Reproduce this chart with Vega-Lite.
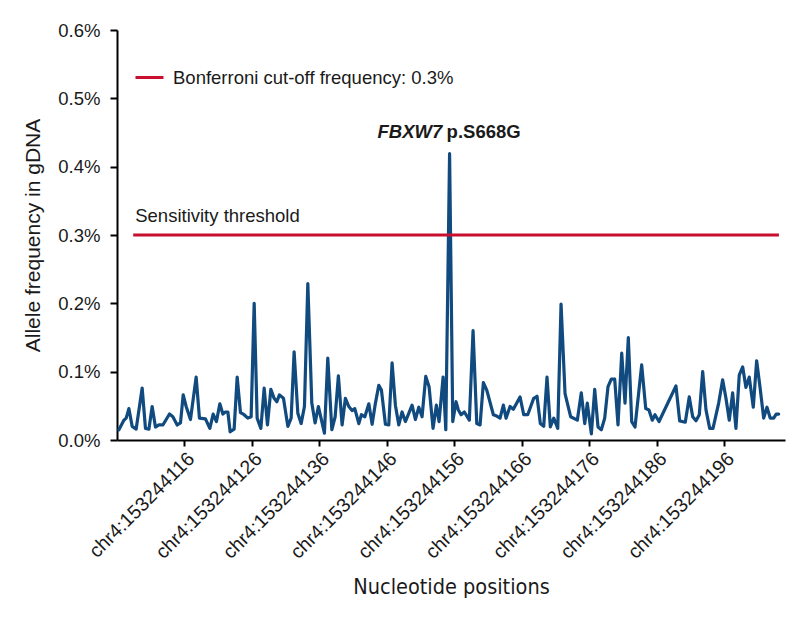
{
  "$schema": "https://vega.github.io/schema/vega-lite/v6.json",
  "width": 668,
  "height": 410,
  "autosize": {"type": "none"},
  "padding": {"left": 117, "top": 30, "right": 3, "bottom": 178},
  "background": "white",
  "config": {"view": {"stroke": null}, "font": "Liberation Sans"},
  "layer": [
    {
      "data": {"values": [
        {"pos": 106.28, "freq": 0.015}, {"pos": 107.02, "freq": 0.029}, {"pos": 107.36, "freq": 0.032}, {"pos": 107.76, "freq": 0.046},
        {"pos": 108.25, "freq": 0.020}, {"pos": 108.84, "freq": 0.016}, {"pos": 109.73, "freq": 0.076}, {"pos": 110.22, "freq": 0.017},
        {"pos": 110.73, "freq": 0.016}, {"pos": 111.21, "freq": 0.049}, {"pos": 111.70, "freq": 0.019}, {"pos": 112.21, "freq": 0.022},
        {"pos": 112.80, "freq": 0.022}, {"pos": 113.78, "freq": 0.038}, {"pos": 114.28, "freq": 0.034}, {"pos": 114.92, "freq": 0.022},
        {"pos": 115.41, "freq": 0.025}, {"pos": 115.81, "freq": 0.066}, {"pos": 116.25, "freq": 0.049}, {"pos": 116.89, "freq": 0.030},
        {"pos": 117.73, "freq": 0.092}, {"pos": 118.22, "freq": 0.032}, {"pos": 119.11, "freq": 0.031}, {"pos": 119.76, "freq": 0.017},
        {"pos": 120.25, "freq": 0.038}, {"pos": 120.74, "freq": 0.027}, {"pos": 121.24, "freq": 0.053}, {"pos": 121.69, "freq": 0.038},
        {"pos": 122.07, "freq": 0.041}, {"pos": 122.43, "freq": 0.041}, {"pos": 122.77, "freq": 0.012}, {"pos": 123.36, "freq": 0.016},
        {"pos": 123.81, "freq": 0.092}, {"pos": 124.30, "freq": 0.040}, {"pos": 124.84, "freq": 0.037}, {"pos": 125.39, "freq": 0.032},
        {"pos": 125.88, "freq": 0.034}, {"pos": 126.33, "freq": 0.200}, {"pos": 126.77, "freq": 0.032}, {"pos": 127.32, "freq": 0.017},
        {"pos": 127.81, "freq": 0.076}, {"pos": 128.30, "freq": 0.022}, {"pos": 128.80, "freq": 0.074}, {"pos": 129.29, "freq": 0.061},
        {"pos": 129.69, "freq": 0.056}, {"pos": 130.07, "freq": 0.066}, {"pos": 130.67, "freq": 0.061}, {"pos": 131.32, "freq": 0.020},
        {"pos": 131.81, "freq": 0.032}, {"pos": 132.25, "freq": 0.129}, {"pos": 132.80, "freq": 0.039}, {"pos": 133.29, "freq": 0.024},
        {"pos": 133.78, "freq": 0.049}, {"pos": 134.28, "freq": 0.229}, {"pos": 134.87, "freq": 0.054}, {"pos": 135.36, "freq": 0.025},
        {"pos": 135.85, "freq": 0.049}, {"pos": 136.74, "freq": 0.010}, {"pos": 137.24, "freq": 0.120}, {"pos": 137.84, "freq": 0.015},
        {"pos": 138.33, "freq": 0.034}, {"pos": 138.81, "freq": 0.094}, {"pos": 139.36, "freq": 0.022}, {"pos": 139.85, "freq": 0.061},
        {"pos": 140.36, "freq": 0.049}, {"pos": 140.84, "freq": 0.043}, {"pos": 141.24, "freq": 0.046}, {"pos": 141.84, "freq": 0.024},
        {"pos": 142.22, "freq": 0.037}, {"pos": 142.73, "freq": 0.034}, {"pos": 143.32, "freq": 0.053}, {"pos": 143.81, "freq": 0.023},
        {"pos": 144.30, "freq": 0.054}, {"pos": 144.80, "freq": 0.080}, {"pos": 145.19, "freq": 0.073}, {"pos": 145.78, "freq": 0.023},
        {"pos": 146.28, "freq": 0.022}, {"pos": 146.77, "freq": 0.113}, {"pos": 147.26, "freq": 0.051}, {"pos": 147.76, "freq": 0.022},
        {"pos": 148.25, "freq": 0.041}, {"pos": 148.74, "freq": 0.027}, {"pos": 149.24, "freq": 0.039}, {"pos": 149.73, "freq": 0.051},
        {"pos": 150.22, "freq": 0.030}, {"pos": 150.73, "freq": 0.048}, {"pos": 151.21, "freq": 0.034}, {"pos": 151.76, "freq": 0.093},
        {"pos": 152.25, "freq": 0.078}, {"pos": 152.84, "freq": 0.017}, {"pos": 153.33, "freq": 0.051}, {"pos": 153.73, "freq": 0.027},
        {"pos": 154.33, "freq": 0.092}, {"pos": 154.73, "freq": 0.015}, {"pos": 155.29, "freq": 0.419}, {"pos": 155.76, "freq": 0.027},
        {"pos": 156.25, "freq": 0.056}, {"pos": 156.59, "freq": 0.044}, {"pos": 156.99, "freq": 0.037}, {"pos": 157.48, "freq": 0.041},
        {"pos": 158.22, "freq": 0.029}, {"pos": 158.77, "freq": 0.160}, {"pos": 159.32, "freq": 0.024}, {"pos": 159.81, "freq": 0.022},
        {"pos": 160.30, "freq": 0.084}, {"pos": 160.80, "freq": 0.073}, {"pos": 161.78, "freq": 0.037}, {"pos": 162.28, "freq": 0.035},
        {"pos": 162.77, "freq": 0.032}, {"pos": 163.26, "freq": 0.051}, {"pos": 163.66, "freq": 0.032}, {"pos": 164.25, "freq": 0.049},
        {"pos": 164.74, "freq": 0.045}, {"pos": 165.73, "freq": 0.063}, {"pos": 166.28, "freq": 0.037}, {"pos": 166.87, "freq": 0.037},
        {"pos": 167.76, "freq": 0.061}, {"pos": 168.25, "freq": 0.064}, {"pos": 168.74, "freq": 0.024}, {"pos": 169.24, "freq": 0.020},
        {"pos": 169.73, "freq": 0.092}, {"pos": 170.22, "freq": 0.019}, {"pos": 170.73, "freq": 0.032}, {"pos": 171.32, "freq": 0.017},
        {"pos": 171.81, "freq": 0.199}, {"pos": 172.40, "freq": 0.068}, {"pos": 173.24, "freq": 0.034}, {"pos": 174.22, "freq": 0.029},
        {"pos": 174.81, "freq": 0.069}, {"pos": 175.32, "freq": 0.024}, {"pos": 175.70, "freq": 0.054}, {"pos": 176.30, "freq": 0.009},
        {"pos": 176.80, "freq": 0.074}, {"pos": 177.29, "freq": 0.019}, {"pos": 177.78, "freq": 0.015}, {"pos": 178.28, "freq": 0.032},
        {"pos": 178.77, "freq": 0.078}, {"pos": 179.26, "freq": 0.089}, {"pos": 179.76, "freq": 0.089}, {"pos": 180.25, "freq": 0.022},
        {"pos": 180.80, "freq": 0.127}, {"pos": 181.29, "freq": 0.054}, {"pos": 181.78, "freq": 0.150}, {"pos": 182.28, "freq": 0.027},
        {"pos": 182.77, "freq": 0.019}, {"pos": 183.76, "freq": 0.110}, {"pos": 184.36, "freq": 0.046}, {"pos": 184.84, "freq": 0.044},
        {"pos": 185.33, "freq": 0.029}, {"pos": 185.73, "freq": 0.037}, {"pos": 186.33, "freq": 0.027}, {"pos": 188.06, "freq": 0.063},
        {"pos": 188.84, "freq": 0.079}, {"pos": 189.39, "freq": 0.028}, {"pos": 190.22, "freq": 0.026}, {"pos": 190.81, "freq": 0.063},
        {"pos": 191.32, "freq": 0.034}, {"pos": 191.81, "freq": 0.028}, {"pos": 192.30, "freq": 0.037}, {"pos": 192.80, "freq": 0.100},
        {"pos": 193.29, "freq": 0.044}, {"pos": 193.84, "freq": 0.017}, {"pos": 194.33, "freq": 0.017}, {"pos": 195.17, "freq": 0.054},
        {"pos": 195.76, "freq": 0.088}, {"pos": 196.25, "freq": 0.061}, {"pos": 196.74, "freq": 0.029}, {"pos": 197.24, "freq": 0.069},
        {"pos": 197.73, "freq": 0.017}, {"pos": 198.22, "freq": 0.095}, {"pos": 198.73, "freq": 0.107}, {"pos": 199.21, "freq": 0.077},
        {"pos": 199.70, "freq": 0.092}, {"pos": 200.30, "freq": 0.048}, {"pos": 200.80, "freq": 0.116}, {"pos": 201.29, "freq": 0.078},
        {"pos": 201.84, "freq": 0.032}, {"pos": 202.33, "freq": 0.048}, {"pos": 202.81, "freq": 0.032}, {"pos": 203.32, "freq": 0.032},
        {"pos": 203.70, "freq": 0.038}, {"pos": 204.06, "freq": 0.038}
      ]},
      "mark": {"type": "line", "color": "#104a7e", "strokeWidth": 3.2, "strokeJoin": "round", "strokeCap": "round"},
      "encoding": {
        "x": {
          "field": "pos", "type": "quantitative",
          "scale": {"domain": [106, 205], "nice": false, "zero": false},
          "axis": {
            "values": [116, 126, 136, 146, 156, 166, 176, 186, 196],
            "labelExpr": "'chr4:' + format(153244000 + datum.value, 'd')",
            "labelAngle": -45, "labelAlign": "right", "labelBaseline": "top",
            "labelFontSize": 19.5, "labelColor": "#1a1a1a", "labelPadding": 3,
            "labelOverlap": false, "labelLimit": 0,
            "domainColor": "black", "domainWidth": 2, "tickColor": "black", "tickWidth": 2, "tickSize": 6,
            "grid": false,
            "title": "Nucleotide positions", "titleFont": "Liberation Sans Narrow, DejaVu Sans Condensed, Roboto Condensed, Liberation Sans",
            "titleFontSize": 21.5,
            "titleFontWeight": "normal", "titleColor": "#1a1a1a", "titlePadding": 15
          }
        },
        "y": {
          "field": "freq", "type": "quantitative",
          "scale": {"domain": [0, 0.6], "nice": false},
          "axis": {
            "values": [0, 0.1, 0.2, 0.3, 0.4, 0.5, 0.6],
            "labelExpr": "format(datum.value, '.1f') + '%'",
            "labelFontSize": 18.5, "labelColor": "#1a1a1a", "labelPadding": 10,
            "domainColor": "black", "domainWidth": 2, "tickColor": "black", "tickWidth": 2, "tickSize": 7,
            "grid": false,
            "title": "Allele frequency in gDNA", "titleFontSize": 21, "titleFontWeight": "normal",
            "titleColor": "#1a1a1a", "titlePadding": 14
          }
        }
      }
    },
    {
      "data": {"values": [{}]},
      "mark": {"type": "rule", "strokeWidth": 3},
      "encoding": {
        "x": {"datum": 108.4, "type": "quantitative"},
        "x2": {"datum": 204.1},
        "y": {"datum": 0.3, "type": "quantitative"},
        "color": {
          "datum": "Bonferroni cut-off frequency: 0.3%",
          "type": "nominal",
          "scale": {"range": ["#c8102e"]},
          "legend": {
            "orient": "none", "legendX": 17, "legendY": 32, "title": null,
            "symbolType": "stroke", "symbolSize": 784, "symbolStrokeWidth": 3,
            "labelFontSize": 18.5, "labelColor": "#1a1a1a", "labelOffset": 8, "labelLimit": 0, "padding": 0
          }
        }
      }
    },
    {
      "data": {"values": [{}]},
      "mark": {"type": "text", "align": "left", "baseline": "alphabetic", "fontSize": 18.5, "color": "#1a1a1a"},
      "encoding": {
        "x": {"datum": 108.7, "type": "quantitative"},
        "y": {"datum": 0.319, "type": "quantitative"},
        "text": {"value": "Sensitivity threshold"}
      }
    },
    {
      "data": {"values": [{}]},
      "mark": {"type": "text", "align": "right", "baseline": "alphabetic", "fontSize": 18.5, "fontWeight": "bold", "fontStyle": "italic", "color": "#1a1a1a"},
      "encoding": {
        "x": {"datum": 154.2, "type": "quantitative"},
        "y": {"datum": 0.442, "type": "quantitative"},
        "text": {"value": "FBXW7"}
      }
    },
    {
      "data": {"values": [{}]},
      "mark": {"type": "text", "align": "left", "baseline": "alphabetic", "fontSize": 18.5, "fontWeight": "bold", "color": "#1a1a1a"},
      "encoding": {
        "x": {"datum": 154.85, "type": "quantitative"},
        "y": {"datum": 0.442, "type": "quantitative"},
        "text": {"value": "p.S668G"}
      }
    }
  ]
}
